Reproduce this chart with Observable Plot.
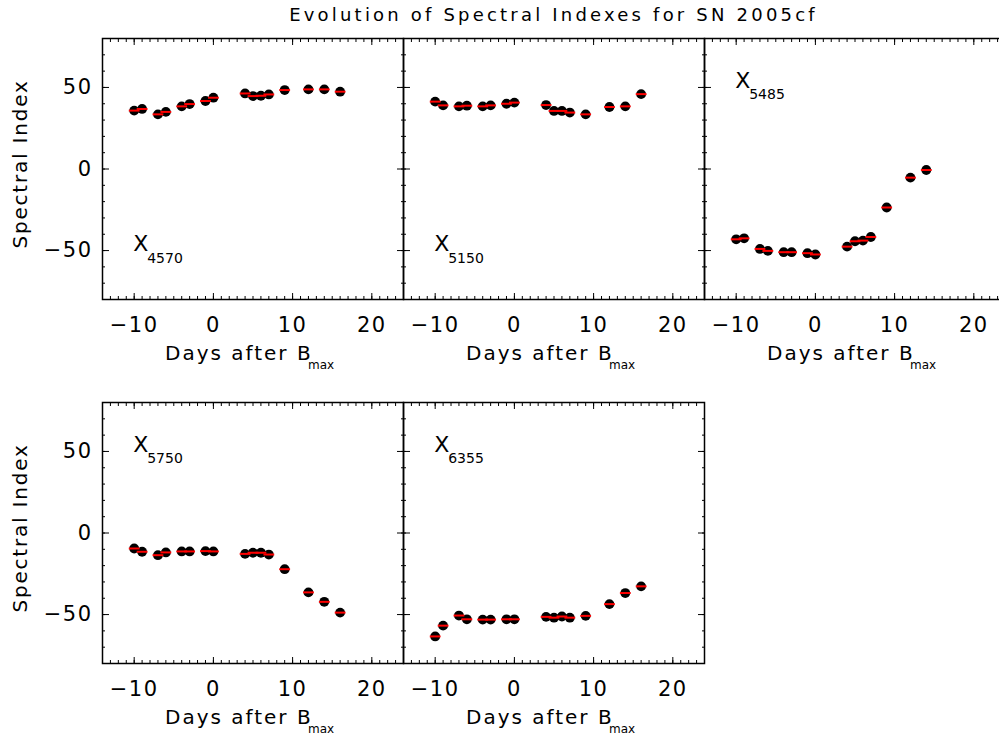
<!DOCTYPE html>
<html>
<head>
<meta charset="utf-8">
<script src="https://cdn.jsdelivr.net/npm/d3@7"></script>
<script src="https://cdn.jsdelivr.net/npm/@observablehq/plot@0.6"></script>
<style>
  body { margin: 0; background: #fff; }
  #chart { position: relative; width: 999px; height: 737px; overflow: hidden; background: #fff;
           font-family: "DejaVu Sans", sans-serif; }
  #title { position: absolute; left: 102px; width: 903px; top: 4px; text-align: center;
           font-size: 18px; letter-spacing: 3.2px; font-weight: normal; color: #000; }
  .panel { position: absolute; }
  .panel svg { max-width: none !important; display: block; }
</style>
</head>
<body>
<div id="chart">
  <div id="title">Evolution of Spectral Indexes for SN 2005cf</div>
</div>
<script>
// ---------------- data ----------------
const days = [-10, -9, -7, -6, -4, -3, -1, 0, 4, 5, 6, 7, 9, 12, 14, 16];
const bandNames = ["4570", "5150", "5485", "5750", "6355"];
const x4570 = [35.8, 36.8, 33.5, 35.0, 38.4, 39.8, 41.7, 43.7, 46.3, 44.7, 44.9, 45.7, 48.4, 48.8, 48.8, 47.4];
const x5150 = [41.3, 39.0, 38.4, 38.8, 38.4, 39.0, 40.0, 40.7, 39.2, 35.6, 35.6, 34.6, 33.5, 38.0, 38.4, 45.9];
const x5485 = [-43.1, -42.5, -49.0, -50.2, -51.0, -51.0, -51.6, -52.4, -47.6, -44.3, -43.9, -41.7, -23.6, -5.3, -0.6];
const x5750 = [-9.5, -11.5, -13.6, -11.9, -11.3, -11.3, -11.1, -11.3, -12.8, -12.1, -12.1, -13.2, -22.2, -36.4, -42.2, -48.8];
const x6355 = [-63.4, -56.8, -50.6, -52.9, -53.1, -53.1, -52.9, -52.9, -51.4, -51.9, -51.2, -51.9, -50.8, -43.6, -36.8, -32.7];
const seriesValues = [x4570, x5150, x5485, x5750, x6355];
const xTickLabels = [-10, 0, 10, 20];
const yTickLabels = [-50, 0, 50];
const xMinorTicks = d3.range(-14, 25, 1);
const yMinorTicks = d3.range(-80, 81, 10);
const xDomain = [-14, 24];
const yDomain = [-80, 80];
const xTitle = "Days after B";
const xTitleSub = "max";
const yTitle = "Spectral Index";

// ---------------- layout ----------------
const colLeft = [102, 403, 704];
const rowTop = [38, 402];
const panelW = 301, panelH = 261;
const mL = 102, mR = 12, mT = 10, mB = 85;
const panelLayout = [
  {col: 0, row: 0, labelY: -46},
  {col: 1, row: 0, labelY: -46},
  {col: 2, row: 0, labelY: 54},
  {col: 0, row: 1, labelY: 54},
  {col: 1, row: 1, labelY: 54}
];
const FONT = '"DejaVu Sans", sans-serif';
const spacing = new Map([[xTitle, "2px"], [xTitleSub, "0px"], [yTitle, "1.8px"], ["X", "0px"]]);
bandNames.forEach(n => spacing.set(n, "0px"));

const dashSymbol = { draw(ctx) { ctx.moveTo(-5.4, 0); ctx.lineTo(5.4, 0); } };

const chart = document.getElementById("chart");

bandNames.forEach((name, i) => {
  const lay = panelLayout[i];
  const vals = seriesValues[i];
  const data = vals.map((v, j) => ({day: days[j], value: v}));
  const isLeft = lay.col === 0;
  const marks = [
    Plot.frame({stroke: "black", strokeWidth: 1.5}),
    Plot.axisX(xMinorTicks, {anchor: "bottom", tickSize: -3, fill: "none", label: null}),
    Plot.axisX(xMinorTicks, {anchor: "top", tickSize: -3, fill: "none", label: null}),
    Plot.axisX(xTickLabels, {anchor: "bottom", tickSize: -6, fill: "none", label: null}),
    Plot.axisX(xTickLabels, {anchor: "top", tickSize: -6, fill: "none", label: null}),
    Plot.axisY(yMinorTicks, {anchor: "left", tickSize: -3, fill: "none", label: null}),
    Plot.axisY(yMinorTicks, {anchor: "right", tickSize: -3, fill: "none", label: null}),
    Plot.axisY(yTickLabels, {anchor: "left", tickSize: -7, fill: "none", label: null}),
    Plot.axisY(yTickLabels, {anchor: "right", tickSize: -7, fill: "none", label: null}),
    Plot.axisX(xTickLabels, {anchor: "bottom", tickSize: 0, tickPadding: 18, fontSize: 21, label: null}),
    Plot.text([xTitle], {frameAnchor: "bottom", textAnchor: "start", dx: -88, dy: 60, fontSize: 20, text: d => d}),
    Plot.text([xTitleSub], {frameAnchor: "bottom", textAnchor: "start", dx: 55, dy: 69, fontSize: 12, text: d => d}),
    Plot.text(["X"], {x: () => days[0], y: () => lay.labelY, textAnchor: "start", dx: -1, fontSize: 22, text: d => d}),
    Plot.text([name], {x: () => days[0], y: () => lay.labelY, textAnchor: "start", dx: 13, dy: 14, fontSize: 14, text: d => d}),
    Plot.dot(data, {x: "day", y: "value", r: 4.9, fill: "black", stroke: "none"}),
    Plot.dot(data, {x: "day", y: "value", symbol: dashSymbol, fill: "none", stroke: "#ff0000", strokeWidth: 2})
  ];
  if (isLeft) {
    marks.push(Plot.axisY(yTickLabels, {anchor: "left", tickSize: 0, tickPadding: 10, fontSize: 21, label: null}));
    marks.push(Plot.text([yTitle], {frameAnchor: "left", textAnchor: "middle", rotate: -90, dx: -82, dy: -5, fontSize: 20, text: d => d}));
  }
  const svg = Plot.plot({
    width: mL + panelW + mR,
    height: mT + panelH + mB,
    marginLeft: mL, marginRight: mR, marginTop: mT, marginBottom: mB,
    x: {domain: xDomain},
    y: {domain: yDomain},
    style: {background: "transparent", fontFamily: FONT, color: "black", overflow: "visible", letterSpacing: "1.5px"},
    marks
  });
  d3.select(svg).selectAll("text").each(function () {
    const s = spacing.get(this.textContent);
    if (s !== undefined) this.style.letterSpacing = s;
  });
  const wrap = document.createElement("div");
  wrap.className = "panel";
  wrap.style.left = (colLeft[lay.col] - mL) + "px";
  wrap.style.top = (rowTop[lay.row] - mT) + "px";
  wrap.style.width = (mL + panelW + mR) + "px";
  wrap.appendChild(svg);
  chart.appendChild(wrap);
});
</script>
</body>
</html>
